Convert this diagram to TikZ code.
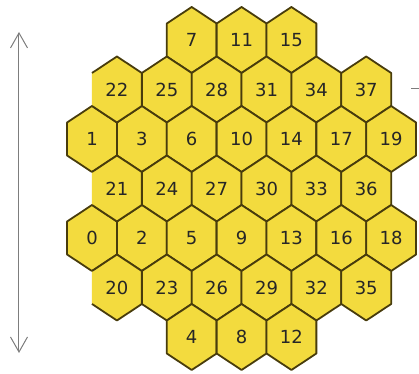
\documentclass[tikz,border=0pt]{standalone}
\usepackage{fontspec}
\setmainfont{DejaVu Sans}
\usetikzlibrary{arrows.meta}
\definecolor{honey}{RGB}{243,219,62}
\definecolor{hexline}{RGB}{72,60,12}
\definecolor{axisgray}{RGB}{125,125,125}
\tikzset{
	celledge/.style={draw=hexline, line width=1.8pt, line join=round},
	celltext/.style={font=\fontsize{18}{18}\selectfont, text=black!85},
	axisline/.style={draw=axisgray, line width=1pt},
}
\begin{document}
\begin{tikzpicture}[x=24.93pt, y=-49.5pt, >={Straight Barb[length=15pt,width=17pt]}]
	\useasboundingbox (-3.690,-0.808) rectangle (13.117,6.747);
	% cells, column/row/label
	\foreach \c/\r/\l in {4/0/7,6/0/11,8/0/15,
			3/1/25,5/1/28,7/1/31,9/1/34,11/1/37,
			0/2/1,2/2/3,4/2/6,6/2/10,8/2/14,10/2/17,12/2/19,
			3/3/24,5/3/27,7/3/30,9/3/33,11/3/36,
			0/4/0,2/4/2,4/4/5,6/4/9,8/4/13,10/4/16,12/4/18,
			3/5/23,5/5/26,7/5/29,9/5/32,11/5/35,
			4/6/4,6/6/8,8/6/12} {
		\filldraw[celledge, fill=honey] (\c,\r) ++(0,-2/3) -- ++(1,1/3) -- ++(0,2/3) -- ++(-1,1/3) -- ++(-1,-1/3) -- ++(0,-2/3) -- cycle;
		\node[celltext] (n\l) at (\c,\r) {\l};
	}
	% left column has no outer edge
	\foreach \c/\r/\l in {1/1/22,1/3/21,1/5/20} {
		\fill[honey] (\c,\r) ++(0,-2/3) -- ++(1,1/3) -- ++(0,2/3) -- ++(-1,1/3) -- ++(-1,-1/3) -- ++(0,-2/3) -- cycle;
		\draw[celledge] (\c,\r) ++(-1,-1/3) -- ++(1,-1/3) -- ++(1,1/3) -- ++(0,2/3) -- ++(-1,1/3) -- ++(-1,-1/3);
		\node[celltext] (n\l) at (\c,\r) {\l};
	}
	\coordinate (axtop) at (-2.928,-0.162);
	\coordinate (axbot) at (-2.928,6.323);
	\draw[axisline, <->] (axtop) -- (axbot);
	\coordinate (tickA) at (12.796,0.97);
	\coordinate (tickB) at (13.117,0.97);
	\draw[axisline] (tickA) -- (tickB);
\end{tikzpicture}
\end{document}
